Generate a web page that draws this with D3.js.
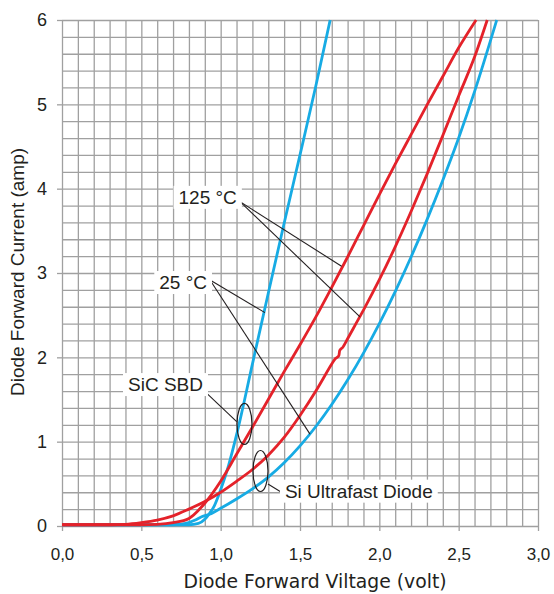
<!DOCTYPE html>
<html>
<head>
<meta charset="utf-8">
<script src="https://cdn.jsdelivr.net/npm/d3@7"></script>
<style>
body { margin: 0; background: #fff; }
.grid line { stroke: #a0a0a0; stroke-width: 1.3; }
.grid path { display: none; }
.axis path { display: none; }
.axis line { stroke: #a0a0a0; stroke-width: 1.3; }
.axis text { fill: #231f20; }
</style>
</head>
<body>
<div id="chart"></div>
<script>
// axis ticks
var voltTicks = [0, 0.5, 1.0, 1.5, 2.0, 2.5, 3.0];
var ampTicks = [0, 1, 2, 3, 4, 5, 6];

// SiC SBD, 25 C (blue, steep)
var sic25V = [0, 0.8, 0.86, 0.9, 0.93, 0.96, 1.0, 1.05, 1.1, 1.2, 1.3, 1.4, 1.5, 1.6, 1.69];
var sic25I = [0.015, 0.015, 0.03, 0.08, 0.15, 0.24, 0.43, 0.72, 1.08, 1.92, 2.76, 3.59, 4.4, 5.22, 6.0];

// Si ultrafast, 25 C (blue)
var si25V = [0, 0.7, 0.78, 0.84, 0.88, 0.93, 1.0, 1.1, 1.2, 1.3, 1.4, 1.5, 1.6, 1.7, 1.8, 1.9, 2.0, 2.1, 2.2, 2.3, 2.4, 2.5, 2.6, 2.74];
var si25I = [0.015, 0.015, 0.03, 0.07, 0.11, 0.14, 0.21, 0.32, 0.44, 0.58, 0.75, 0.95, 1.18, 1.44, 1.73, 2.05, 2.4, 2.78, 3.19, 3.63, 4.1, 4.6, 5.15, 6.0];

// SiC SBD, 125 C (red)
var sic125V = [0, 0.5, 0.6, 0.7, 0.8, 0.9, 1.0, 1.1, 1.2, 1.3, 1.4, 1.5, 1.6, 1.7, 1.8, 1.9, 2.0, 2.1, 2.2, 2.3, 2.4, 2.5, 2.61];
var sic125I = [0.015, 0.015, 0.02, 0.04, 0.09, 0.27, 0.53, 0.85, 1.17, 1.5, 1.83, 2.15, 2.48, 2.83, 3.19, 3.56, 3.93, 4.29, 4.64, 4.99, 5.33, 5.67, 6.0];

// Si ultrafast, 125 C (red)
var si125V = [0, 0.3, 0.4, 0.5, 0.6, 0.7, 0.8, 0.9, 1.0, 1.1, 1.2, 1.3, 1.4, 1.5, 1.6, 1.7, 1.72, 1.745, 1.75, 1.77, 1.8, 1.85, 1.9, 2.0, 2.1, 2.2, 2.3, 2.4, 2.5, 2.6, 2.68];
var si125I = [0.015, 0.015, 0.02, 0.04, 0.07, 0.12, 0.2, 0.29, 0.4, 0.53, 0.67, 0.84, 1.05, 1.31, 1.6, 1.92, 1.98, 2.02, 2.08, 2.12, 2.22, 2.39, 2.56, 2.92, 3.31, 3.73, 4.17, 4.63, 5.1, 5.56, 6.0];

var margin = { top: 20, right: 16, bottom: 68, left: 62 },
    width = 554 - margin.left - margin.right,
    height = 594 - margin.top - margin.bottom;

var red = "#e4222a", blue = "#17abe4", ink = "#231f20";

var svg = d3.select("#chart")
    .append("svg")
    .attr("width", width + margin.left + margin.right)
    .attr("height", height + margin.top + margin.bottom)
    .append("g")
    .attr("transform", "translate(" + margin.left + "," + margin.top + ")");

var x = d3.scaleLinear().domain([0, 3]).range([0, width]);
var y = d3.scaleLinear().domain([0, 6]).range([height, 0]);

// grid
svg.append("g")
    .attr("class", "grid")
    .attr("transform", "translate(0," + height + ")")
    .call(d3.axisBottom(x).tickValues(d3.range(0, 31).map(d => d / 10)).tickSize(-height).tickFormat(""));
svg.append("g")
    .attr("class", "grid")
    .call(d3.axisLeft(y).tickValues(d3.range(0, 31).map(d => d / 5)).tickSize(-width).tickFormat(""));

// axes
var fmt = d => d3.format(".1f")(d).replace(".", ",");
svg.append("g")
    .attr("class", "axis")
    .attr("transform", "translate(0," + height + ")")
    .call(d3.axisBottom(x).tickValues(voltTicks).tickSize(5).tickPadding(17).tickFormat(fmt))
    .selectAll("text")
    .style("font-family", "Liberation Sans, Arial, sans-serif")
    .style("font-size", "17px");
svg.append("g")
    .attr("class", "axis")
    .call(d3.axisLeft(y).tickValues(ampTicks).tickSize(5).tickPadding(10).tickFormat(d3.format("d")))
    .selectAll("text")
    .style("font-family", "Liberation Sans, Arial, sans-serif")
    .style("font-size", "18px");

svg.append("text")
    .attr("x", 253).attr("y", height + 62)
    .attr("text-anchor", "middle")
    .style("font-family", "DejaVu Sans, sans-serif")
    .style("font-size", "18.8px")
    .style("fill", ink)
    .text("Diode Forward Viltage (volt)");

svg.append("text")
    .attr("transform", "translate(-38," + (252) + ") rotate(-90)")
    .attr("text-anchor", "middle")
    .style("font-family", "Liberation Sans, Arial, sans-serif")
    .style("font-size", "19px")
    .style("fill", ink)
    .text("Diode Forward Current (amp)");

// curves
var line = d3.line()
    .x(d => x(d[0]))
    .y(d => y(d[1]))
    .curve(d3.curveMonotoneX);

var series = [
    { v: si25V, i: si25I, c: blue },
    { v: sic25V, i: sic25I, c: blue },
    { v: si125V, i: si125I, c: red },
    { v: sic125V, i: sic125I, c: red }
];
svg.append("g")
    .selectAll("path")
    .data(series)
    .enter()
    .append("path")
    .attr("d", d => line(d3.zip(d.v, d.i)))
    .attr("fill", "none")
    .attr("stroke", d => d.c)
    .attr("stroke-width", 2.8)
    .attr("stroke-linejoin", "round");

// leader lines (data units)
var leaders = [
    [[1.122, 3.846], [1.762, 3.08]],
    [[1.122, 3.846], [1.878, 2.48]],
    [[0.933, 2.917], [1.279, 2.53]],
    [[0.933, 2.917], [1.563, 1.09]],
    [[0.901, 1.593], [1.101, 1.237]],
    [[1.298, 0.498], [1.38, 0.403]]
];
var ann = svg.append("g");
ann.selectAll("line")
    .data(leaders)
    .enter()
    .append("line")
    .attr("x1", d => x(d[0][0])).attr("y1", d => y(d[0][1]))
    .attr("x2", d => x(d[1][0])).attr("y2", d => y(d[1][1]))
    .attr("stroke", ink)
    .attr("stroke-width", 1.1);

var ellipses = [[1.150, 1.21], [1.251, 0.652]];
ann.selectAll("ellipse")
    .data(ellipses)
    .enter()
    .append("ellipse")
    .attr("cx", d => x(d[0])).attr("cy", d => y(d[1]))
    .attr("rx", 7.5).attr("ry", 20.5)
    .attr("fill", "none")
    .attr("stroke", ink)
    .attr("stroke-width", 1.2);

// labels with white boxes
var labels = [
    { t: "125 °C", v: 1.102, i: 3.82, a: "end" },
    { t: "25 °C", v: 0.914, i: 2.81, a: "end" },
    { t: "SiC SBD", v: 0.416, i: 1.60, a: "start" },
    { t: "Si Ultrafast Diode", v: 1.405, i: 0.336, a: "start" }
];
labels.forEach(function (l) {
    var g = ann.append("g");
    var t = g.append("text")
        .attr("x", x(l.v)).attr("y", y(l.i))
        .attr("text-anchor", l.a)
        .style("font-family", "Liberation Sans, Arial, sans-serif")
        .style("font-size", "19px")
        .style("fill", ink)
        .text(l.t);
    var b = t.node().getBBox();
    g.insert("rect", "text")
        .attr("x", b.x - 5).attr("y", b.y - 1)
        .attr("width", b.width + 10).attr("height", b.height + 2)
        .attr("fill", "#fff");
});
</script>
</body>
</html>
